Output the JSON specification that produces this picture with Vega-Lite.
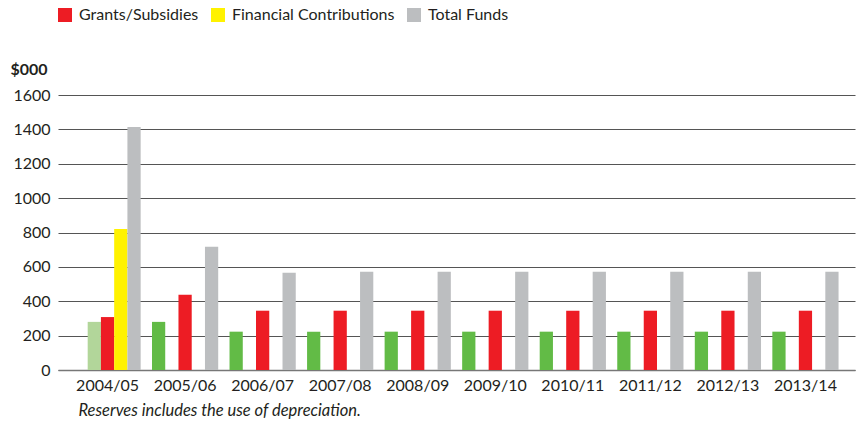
{
  "$schema": "https://vega.github.io/schema/vega-lite/v6.json",
  "autosize": "none",
  "width": 797,
  "height": 275,
  "padding": {"left": 58, "top": 95, "right": 8, "bottom": 53},
  "background": "white",
  "config": {
    "font": "Lato",
    "view": {"stroke": null},
    "axis": {"labelFont": "Lato", "titleFont": "Lato", "labelColor": "#231F20", "titleColor": "#231F20"},
    "legend": {"labelFont": "Lato"}
  },
  "data": {
    "values": [
      {"year": "2004/05", "series": "Reserves (actual)", "value": 280},
      {"year": "2004/05", "series": "Grants/Subsidies", "value": 308},
      {"year": "2004/05", "series": "Financial Contributions", "value": 820},
      {"year": "2004/05", "series": "Total Funds", "value": 1414},
      {"year": "2005/06", "series": "Reserves", "value": 280},
      {"year": "2005/06", "series": "Grants/Subsidies", "value": 438},
      {"year": "2005/06", "series": "Total Funds", "value": 717},
      {"year": "2006/07", "series": "Reserves", "value": 223},
      {"year": "2006/07", "series": "Grants/Subsidies", "value": 345},
      {"year": "2006/07", "series": "Total Funds", "value": 566},
      {"year": "2007/08", "series": "Reserves", "value": 223},
      {"year": "2007/08", "series": "Grants/Subsidies", "value": 345},
      {"year": "2007/08", "series": "Total Funds", "value": 572},
      {"year": "2008/09", "series": "Reserves", "value": 223},
      {"year": "2008/09", "series": "Grants/Subsidies", "value": 345},
      {"year": "2008/09", "series": "Total Funds", "value": 572},
      {"year": "2009/10", "series": "Reserves", "value": 223},
      {"year": "2009/10", "series": "Grants/Subsidies", "value": 345},
      {"year": "2009/10", "series": "Total Funds", "value": 572},
      {"year": "2010/11", "series": "Reserves", "value": 223},
      {"year": "2010/11", "series": "Grants/Subsidies", "value": 345},
      {"year": "2010/11", "series": "Total Funds", "value": 572},
      {"year": "2011/12", "series": "Reserves", "value": 223},
      {"year": "2011/12", "series": "Grants/Subsidies", "value": 345},
      {"year": "2011/12", "series": "Total Funds", "value": 572},
      {"year": "2012/13", "series": "Reserves", "value": 223},
      {"year": "2012/13", "series": "Grants/Subsidies", "value": 345},
      {"year": "2012/13", "series": "Total Funds", "value": 572},
      {"year": "2013/14", "series": "Reserves", "value": 223},
      {"year": "2013/14", "series": "Grants/Subsidies", "value": 345},
      {"year": "2013/14", "series": "Total Funds", "value": 572}
    ]
  },
  "mark": {"type": "bar"},
  "encoding": {
    "x": {
      "field": "year",
      "type": "nominal",
      "sort": null,
      "scale": {"paddingInner": 0.146, "paddingOuter": 0.212},
      "axis": {
        "title": "Reserves includes the use of depreciation.",
        "titleFontStyle": "italic",
        "titleFontWeight": "normal",
        "titleFontSize": 16.5,
        "titleAlign": "left",
        "titleBaseline": "alphabetic",
        "titleX": 20,
        "titleY": 45,
        "labelAngle": 0,
        "labelFontSize": 16,
        "labelPadding": 7,
        "ticks": false,
        "domainColor": "#777777",
        "domainWidth": 1.5,
        "grid": false
      }
    },
    "xOffset": {
      "field": "series",
      "type": "nominal",
      "scale": {
        "domain": ["Reserves", "Reserves (actual)", "Grants/Subsidies", "Financial Contributions", "Total Funds"],
        "paddingInner": 0,
        "paddingOuter": 0
      }
    },
    "y": {
      "field": "value",
      "type": "quantitative",
      "scale": {"domain": [0, 1600], "nice": false},
      "axis": {
        "values": [0, 200, 400, 600, 800, 1000, 1200, 1400, 1600],
        "format": "d",
        "title": "$000",
        "titleAngle": 0,
        "titleFontSize": 16,
        "titleFontWeight": "bold",
        "titleAlign": "left",
        "titleBaseline": "alphabetic",
        "titleX": -48,
        "titleY": -21,
        "labelFontSize": 16,
        "labelPadding": 8,
        "ticks": false,
        "domain": false,
        "gridColor": "#555555",
        "gridWidth": 1.2,
        "gridOpacity": 1
      }
    },
    "color": {
      "field": "series",
      "type": "nominal",
      "scale": {
        "domain": ["Grants/Subsidies", "Financial Contributions", "Total Funds", "Reserves", "Reserves (actual)"],
        "range": ["#ED1C24", "#FFF200", "#BCBEC0", "#62BB46", "#B2D69A"]
      },
      "legend": {
        "values": ["Grants/Subsidies", "Financial Contributions", "Total Funds"],
        "title": null,
        "orient": "none",
        "legendX": -1,
        "legendY": -88,
        "direction": "horizontal",
        "symbolType": "square",
        "symbolSize": 196,
        "symbolStrokeWidth": 0,
        "symbolOpacity": 1,
        "labelFontSize": 16,
        "labelLimit": 400,
        "labelColor": "#231F20",
        "labelOffset": 6,
        "columnPadding": 11,
        "padding": 0
      }
    }
  }
}
